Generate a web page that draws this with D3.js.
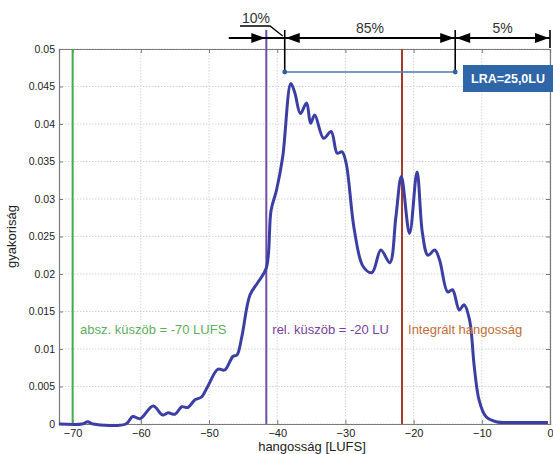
<!DOCTYPE html>
<html><head><meta charset="utf-8">
<script src="https://cdn.jsdelivr.net/npm/d3@7"></script>
<style>
body{margin:0;background:#fff;}
svg{display:block;font-family:"Liberation Sans",Arial,sans-serif;}
</style></head>
<body><svg id="c" width="553" height="454"></svg>
<script>
// ---- data ----
const loudness = [-72,-68.6,-67.8,-67,-62.2,-61.2,-60.1,-58.2,-56.8,-56,-55,-54,-53.1,-52.1,-51.1,-50.2,-48.7,-47.7,-46.5,-45.9,-45.2,-44,-42.9,-41.6,-40.9,-40.1,-39.2,-38.0,-37.4,-36.6,-35.7,-35.1,-34.5,-33.2,-32.1,-31.2,-30.5,-29.9,-28.7,-27.4,-26.1,-24.8,-23.5,-22.6,-21.8,-20.6,-19.5,-18.7,-17.9,-16.9,-16.2,-15,-14.3,-13.3,-12.6,-11.8,-11.1,-10.4,-9.4,-7.9,-5,-0.3];
const frequency = [0,0,0.0003,0,0,0.001,0.0007,0.0024,0.0012,0.0015,0.0013,0.0023,0.0022,0.0032,0.0036,0.005,0.0073,0.0072,0.009,0.0092,0.0116,0.0172,0.0188,0.0208,0.0285,0.0312,0.0356,0.0454,0.0441,0.0414,0.0428,0.0401,0.0412,0.0381,0.039,0.0361,0.0363,0.0348,0.0259,0.021,0.0202,0.0232,0.0215,0.0276,0.033,0.0254,0.0336,0.0254,0.0225,0.0232,0.0219,0.0176,0.0179,0.0152,0.0159,0.0139,0.0076,0.0032,0.001,0.0003,0.0002,0.0002];
const xTicks = [-70,-60,-50,-40,-30,-20,-10,0];
const yTicks = [0,0.005,0.01,0.015,0.02,0.025,0.03,0.035,0.04,0.045,0.05];
const absThreshold = -70;
const relThreshold = -41.6;
const integrated = -21.7;
const lraLow = -38.9, lraHigh = -13.9, arrowStart = -47.1;
const pctLabels = ["10%","85%","5%"];
const lraLabel = "LRA=25,0LU";
const lineLabels = ["absz. küszöb = -70 LUFS","rel. küszöb = -20 LU","Integrált hangosság"];

// ---- layout ----
const svg = d3.select("#c");
const L=59, R=550, T=49, B=424;
const x = d3.scaleLinear().domain([-72,0]).range([L,R]);
const y = d3.scaleLinear().domain([0,0.05]).range([B,T]);

// grid
const g = svg.append("g");
g.selectAll(".vg").data(xTicks).enter().append("line")
 .attr("x1",d=>x(d)).attr("x2",d=>x(d)).attr("y1",T).attr("y2",B)
 .attr("stroke","#d4d4d4").attr("stroke-dasharray","1.5,1.5");
g.selectAll(".hg").data(yTicks).enter().append("line")
 .attr("x1",L).attr("x2",R).attr("y1",d=>y(d)).attr("y2",d=>y(d))
 .attr("stroke","#d4d4d4").attr("stroke-dasharray","1.5,1.5");

// axes
const fmtY = d=> d===0?"0":String(+d.toFixed(3));
const ax = svg.append("g").attr("transform",`translate(0,${B})`)
 .call(d3.axisBottom(x).tickValues(xTicks).tickSize(-4).tickPadding(5).tickFormat(d3.format("d")));
const ay = svg.append("g").attr("transform",`translate(${L},0)`)
 .call(d3.axisLeft(y).tickValues(yTicks).tickSize(-4).tickPadding(4).tickFormat(fmtY));
const axT = svg.append("g").attr("transform",`translate(0,${T})`)
 .call(d3.axisTop(x).tickValues(xTicks).tickSize(-4).tickFormat(""));
const ayR = svg.append("g").attr("transform",`translate(${R},0)`)
 .call(d3.axisRight(y).tickValues(yTicks).tickSize(-4).tickFormat(""));
[ax,ay,axT,ayR].forEach(a=>{
  a.select(".domain").attr("stroke","#7a7a7a").attr("stroke-width",1.2);
  a.selectAll(".tick line").attr("stroke","#7a7a7a");
  a.selectAll("text").attr("fill","#222").attr("font-size","10.5px").attr("font-family","Liberation Sans, Arial, sans-serif");
});
ax.selectAll("text").attr("font-size","11px");

// vertical lines
const vlines = [[absThreshold,"#3fae4a"],[relThreshold,"#6f4ea8"],[integrated,"#a33a2a"]];
svg.selectAll(".vl").data(vlines).enter().append("line")
 .attr("x1",d=>x(d[0])).attr("x2",d=>x(d[0])).attr("y1",T).attr("y2",B)
 .attr("stroke",d=>d[1]).attr("stroke-width",2);
svg.append("line").attr("x1",x(relThreshold)).attr("x2",x(relThreshold)).attr("y1",30).attr("y2",T)
 .attr("stroke","#6f4ea8").attr("stroke-width",2);

// curve
const pts = loudness.map((v,i)=>[v,frequency[i]]);
svg.append("path").datum(pts)
 .attr("d", d3.line().x(d=>x(d[0])).y(d=>y(d[1])).curve(d3.curveCatmullRom.alpha(0.5)))
 .attr("fill","none").attr("stroke","#3b3fa3").attr("stroke-width",3).attr("stroke-linejoin","round");

// inline labels
const lblY = 334;
svg.append("text").attr("x",80).attr("y",lblY).attr("fill","#5fae5f").attr("font-size","13px").text(lineLabels[0]);
svg.append("text").attr("x",x(relThreshold)+6).attr("y",lblY).attr("fill","#7a3f9c").attr("font-size","13px").text(lineLabels[1]);
svg.append("text").attr("x",x(integrated)+6).attr("y",lblY).attr("fill","#c46d37").attr("font-size","13px").text(lineLabels[2]);

// axis titles
svg.append("text").attr("x",312).attr("y",451).attr("text-anchor","middle").attr("fill","#222").attr("font-size","13px").text("hangosság [LUFS]");
svg.append("text").attr("transform",`translate(16,${(T+B)/2}) rotate(-90)`).attr("text-anchor","middle").attr("fill","#222").attr("font-size","13px").text("gyakoriság");

// top annotation
const aY = 38;
const ann = svg.append("g");
ann.append("line").attr("x1",x(arrowStart)).attr("x2",x(0)).attr("y1",aY).attr("y2",aY).attr("stroke","#000").attr("stroke-width",2);
function head(tipX, dir){
  const l=14, h=5;
  ann.append("path").attr("d",`M${tipX},${aY} L${tipX-dir*l},${aY-h} L${tipX-dir*l},${aY+h} Z`).attr("fill","#000");
}
head(x(relThreshold)-1,1);
head(x(lraLow)+1,-1);
head(x(lraHigh)-1,1);
head(x(lraHigh)+1,-1);
head(x(0)-1,1);
[[lraLow,72],[lraHigh,72],[0,48]].forEach(([v,y2])=>{
  ann.append("line").attr("x1",x(v)).attr("x2",x(v)).attr("y1",30).attr("y2",y2).attr("stroke","#000").attr("stroke-width",1.6);
});
ann.append("text").attr("x",256).attr("y",23).attr("text-anchor","middle").attr("font-size","14px").attr("fill","#333").text(pctLabels[0]);
ann.append("path").attr("d",`M240,26 L270,26 L${x(lraLow)-2},${aY-2}`).attr("fill","none").attr("stroke","#000").attr("stroke-width",1.3);
ann.append("text").attr("x",(x(lraLow)+x(lraHigh))/2).attr("y",33).attr("text-anchor","middle").attr("font-size","14px").attr("fill","#333").text(pctLabels[1]);
ann.append("text").attr("x",(x(lraHigh)+x(0))/2).attr("y",33).attr("text-anchor","middle").attr("font-size","14px").attr("fill","#333").text(pctLabels[2]);

// LRA bracket
const bY = 72;
ann.append("line").attr("x1",x(lraLow)).attr("x2",x(lraHigh)).attr("y1",bY).attr("y2",bY).attr("stroke","#4a78ba").attr("stroke-width",1.6);
[lraLow,lraHigh].forEach(v=>ann.append("circle").attr("cx",x(v)).attr("cy",bY).attr("r",2.4).attr("fill","#2f5f9e"));
ann.append("rect").attr("x",463).attr("y",65).attr("width",95).attr("height",27).attr("fill","#2f66a8");
ann.append("text").attr("x",471).attr("y",83).attr("fill","#fff").attr("font-weight","bold").attr("font-size","12.5px").text(lraLabel);
</script></body></html>
